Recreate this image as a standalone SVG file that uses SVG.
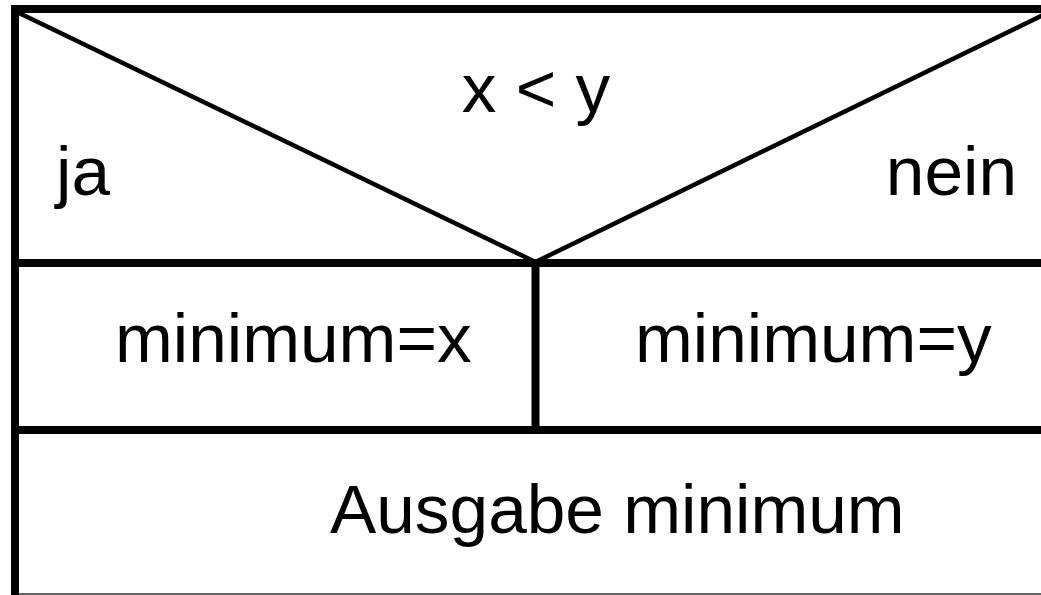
<svg xmlns="http://www.w3.org/2000/svg" width="1041" height="595" viewBox="0 0 1041 595">
  <style>
    .frame { stroke: #000; stroke-width: 8; fill: none; }
    .diag { stroke: #000; stroke-width: 4.5; fill: none; }
    .lbl { font-family: "Liberation Sans", Arial, sans-serif; font-size: 69.4px; fill: #000; }
  </style>
  <rect width="1041" height="595" fill="#fff"/>
  <!-- Struktogramm: Verzweigung x < y -->
  <g id="connectors">
    <line class="frame" x1="15" y1="5" x2="15" y2="595"/>
    <line class="frame" x1="11" y1="9" x2="1041" y2="9"/>
    <line class="frame" x1="19" y1="263" x2="1041" y2="263"/>
    <line class="frame" x1="535.5" y1="263" x2="535.5" y2="430"/>
    <line class="frame" x1="19" y1="430" x2="1041" y2="430"/>
    <line x1="19" y1="594" x2="1041" y2="594" stroke="#333" stroke-width="1.5"/>
    <line class="diag" x1="19" y1="13" x2="535.5" y2="262"/>
    <line class="diag" x1="535.5" y1="262" x2="1043" y2="15"/>
  </g>
  <g id="condition">
    <text class="lbl" x="536" y="112" text-anchor="middle">x &lt; y</text>
  </g>
  <g id="branch-yes">
    <text class="lbl" x="56" y="195">ja</text>
  </g>
  <g id="branch-no">
    <text class="lbl" x="1017" y="195" text-anchor="end">nein</text>
  </g>
  <g id="assign-x">
    <text class="lbl" x="115" y="362">minimum=x</text>
  </g>
  <g id="assign-y">
    <text class="lbl" x="635" y="362">minimum=y</text>
  </g>
  <g id="output">
    <text class="lbl" x="330" y="533">Ausgabe minimum</text>
  </g>
</svg>
